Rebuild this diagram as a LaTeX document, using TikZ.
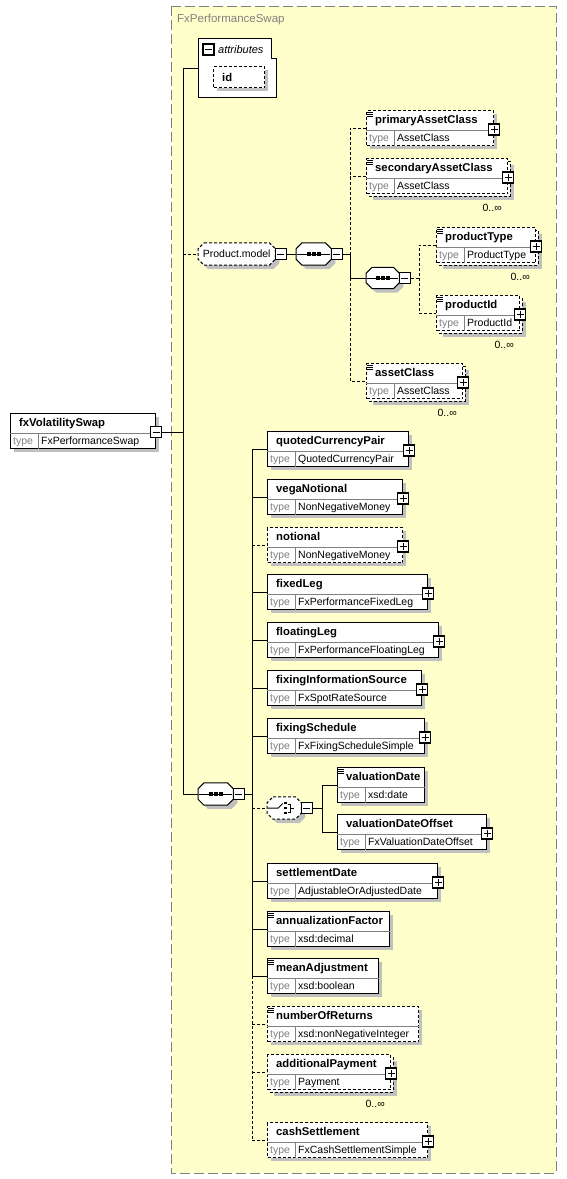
\documentclass[tikz,border=0pt]{standalone}
\usepackage{fontspec}
\setmainfont{Liberation Sans}

\definecolor{bgyellow}{RGB}{255,255,204}
\definecolor{shgray}{RGB}{192,192,192}
\definecolor{txgray}{RGB}{128,128,128}

\tikzset{
  conn/.style={line width=1pt},
  reqline/.style={},
  optline/.style={dash pattern=on 3pt off 2pt},
  elbox/.style={draw, fill=white, line width=1pt, rectangle, anchor=north west, minimum height=35pt, inner sep=0pt},
  elback/.style={draw, fill=white, line width=1pt},
  rowline/.style={draw=txgray, line width=1pt, shorten <=0.5pt, shorten >=0.5pt},
  eltitle/.style={font=\bfseries\fontsize{11.3}{13}\selectfont, anchor=base west, inner sep=0pt},
  typelab/.style={font=\fontsize{10.5}{12}\selectfont, text=txgray, anchor=base west, inner sep=0pt},
  typetxt/.style={font=\fontsize{10.5}{12}\selectfont, anchor=base west, inner sep=0pt},
  card/.style={font=\fontsize{10.5}{12}\selectfont, anchor=base east, inner sep=0pt},
  togbox/.style={draw, fill=white, line width=1.3pt, minimum size=11pt, inner sep=0pt},
  compbox/.style={rectangle, minimum height=22pt, inner sep=0pt, anchor=west},
}

\newif\ifmulti
% element box: [border style]{name}{x}{y}{width}{title}{type}
\newcommand\xsdelem[7][reqline]{%
  \ifmulti
    \fill [shgray] (#3+7, #4+7) rectangle ++(#5, 35);
    \draw [elback, #1] (#3+3, #4+3) rectangle ++(#5, 35);
  \else
    \fill [shgray] (#3+4, #4+4) rectangle ++(#5, 35);
  \fi
  \node (#2) [elbox, #1, minimum width=#5] at (#3, #4) {};
  \draw [rowline] ([yshift=-20pt]#2.north west) -- ([yshift=-20pt]#2.north east)
        ([xshift=28pt, yshift=-20pt]#2.north west) -- ([xshift=28pt]#2.south west);
  \node (#2-name) [eltitle] at ([xshift=9pt, yshift=-13pt]#2.north west) {#6};
  \node (#2-lab) [typelab] at ([xshift=3pt, yshift=-31pt]#2.north west) {type};
  \node (#2-type) [typetxt] at ([xshift=31pt, yshift=-31pt]#2.north west) {#7};
  \ifmulti
    \node (#2-card) [card] at ([xshift=-6pt, yshift=-17.5pt]#2.south east) {0..∞};
  \fi
}
% octagon round a compositor node, shifted by (#2,#3)
\newcommand\octpts[3]{([xshift=#2pt+6pt, yshift=#3pt]#1.north west) -- ([xshift=#2pt-6pt, yshift=#3pt]#1.north east)
  -- ([xshift=#2pt, yshift=#3pt-6pt]#1.north east) -- ([xshift=#2pt, yshift=#3pt+6pt]#1.south east)
  -- ([xshift=#2pt-6pt, yshift=#3pt]#1.south east) -- ([xshift=#2pt+6pt, yshift=#3pt]#1.south west)
  -- ([xshift=#2pt, yshift=#3pt+6pt]#1.south west) -- ([xshift=#2pt, yshift=#3pt-6pt]#1.north west) -- cycle}
\newcommand\octo[2][]{%
  \fill [shgray] \octpts{#2}{4}{-4};
  \draw [conn, fill=white, #1] \octpts{#2}{0}{0};
}
\newcommand\togplus[2]{%
  \node (#1) [togbox] at (#2) {};
  \draw [line width=1pt] ([xshift=-3.5pt]#1.center) -- ([xshift=3.5pt]#1.center)
        ([yshift=-3.5pt]#1.center) -- ([yshift=3.5pt]#1.center);
}
\newcommand\togminus[2]{%
  \node (#1) [togbox] at (#2) {};
  \draw [line width=1pt] ([xshift=-3.5pt]#1.center) -- ([xshift=3.5pt]#1.center);
}
\newcommand\docmark[1]{%
  \draw [line width=0.8pt] ([xshift=1pt, yshift=-2.5pt]#1.north west) -- ++(6,0)
        ([xshift=1pt, yshift=-4.5pt]#1.north west) -- ++(6,0)
        ([xshift=1pt, yshift=-6.5pt]#1.north west) -- ++(6,0);
}
\newcommand\seqicon[1]{%
  \draw [conn] ([xshift=1pt]#1.west) -- ([xshift=-1pt]#1.east);
  \foreach \dx in {-5,0,5}
    \fill ([xshift=\dx pt]#1.center) +(-2,-2) rectangle +(2,2);
}
\newcommand\choiceicon[1]{%
  \draw [conn] ([xshift=-16pt]#1.center) -- ([xshift=-6pt]#1.center) -- ([xshift=-1.5pt, yshift=4.5pt]#1.center);
  \foreach \dy in {-5,0,5}
    \fill ([xshift=1pt, yshift=\dy pt]#1.center) +(-1.3,-1.3) rectangle +(1.3,1.3);
  \draw [line width=0.8pt] ([xshift=3.5pt, yshift=4pt]#1.center) -- ([xshift=6.5pt, yshift=4pt]#1.center)
        -- ([xshift=6.5pt, yshift=-4pt]#1.center) -- ([xshift=3.5pt, yshift=-4pt]#1.center)
        ([xshift=6.5pt]#1.center) -- ([xshift=10pt]#1.center);
}

\begin{document}
\begin{tikzpicture}[x=1pt, y=-1pt]
  \useasboundingbox (0,0) rectangle (567,1179);

  % Type frame
  \draw [draw=txgray, fill=bgyellow, line width=1pt, dash pattern=on 10pt off 4pt] (171,6) rectangle (556,1173);
  \node (frame-title) [typetxt, font=\fontsize{11.5}{13}\selectfont, text=txgray] at (177,22) {FxPerformanceSwap};

  % Root element
  \xsdelem{root}{10}{413}{145}{fxVolatilitySwap}{FxPerformanceSwap}
  \togminus{root-x}{[yshift=-1pt]root.east}
  \coordinate (trunka) at (183,431);

  % Attributes
  \coordinate (attr) at (198,68);
  \draw [conn, fill=white] (198,38) -- (271,38) -- (271,58) -- (276,58) -- (276,97) -- (198,97) -- cycle;
  \togminus{attr-x}{208.5,49.5}
  \node (attr-lab) [typetxt, font=\itshape\fontsize{11}{13}\selectfont] at (218,53) {attributes};
  \fill [shgray] (217,70) rectangle ++(51,21);
  \node (id) [draw, fill=white, optline, line width=1pt, anchor=north west, minimum width=51pt, minimum height=21pt, inner sep=0pt] at (213,66) {};
  \node (id-name) [eltitle] at (222,81) {id};

  % Product.model group
  \node (pmodel) [compbox, minimum width=77pt] at (198,254) {};
  \octo[optline]{pmodel}
  \node (pmodel-lab) [font=\fontsize{10.5}{12}\selectfont, inner sep=0pt] at (pmodel) {Product.model};
  \togminus{pmodel-x}{[xshift=5.5pt]pmodel.east}
  \node (pseq) [compbox, minimum width=35pt] at (296,254) {};
  \octo{pseq}
  \seqicon{pseq}
  \togminus{pseq-x}{[xshift=5.5pt]pseq.east}
  \coordinate (psplit) at (350,254);

  \xsdelem[optline]{primary}{366}{110}{127}{primaryAssetClass}{AssetClass}
  \node (iseq) [compbox, minimum width=33pt, minimum height=21pt] at (366,278) {};
  \octo{iseq}
  \seqicon{iseq}
  \togminus{iseq-x}{[xshift=5.5pt]iseq.east}
  \coordinate (isplit) at (419,278);
  \multitrue
  \xsdelem[optline]{secondary}{366}{158}{141}{secondaryAssetClass}{AssetClass}
  \xsdelem[optline]{ptype}{436}{227}{99}{productType}{ProductType}
  \xsdelem[optline]{pid}{436}{295}{83}{productId}{ProductId}
  \xsdelem[optline]{aclass}{366}{363}{96}{assetClass}{AssetClass}
  \multifalse

  % Main sequence
  \node (mseq) [compbox, minimum width=35pt] at (198,794) {};
  \octo{mseq}
  \seqicon{mseq}
  \togminus{mseq-x}{[xshift=5.5pt]mseq.east}
  \coordinate (trunkb) at (252,794);

  \foreach \nm/\yy/\ww/\ttl/\typ/\sty in {
      qcp/431/141/quotedCurrencyPair/QuotedCurrencyPair/reqline,
      vega/479/135/vegaNotional/NonNegativeMoney/reqline,
      notional/527/135/notional/NonNegativeMoney/optline,
      fixed/574/160/fixedLeg/FxPerformanceFixedLeg/reqline,
      floating/622/171/floatingLeg/FxPerformanceFloatingLeg/reqline,
      fixsrc/670/154/fixingInformationSource/FxSpotRateSource/reqline,
      fixsch/718/157/fixingSchedule/FxFixingScheduleSimple/reqline,
      settle/863/170/settlementDate/AdjustableOrAdjustedDate/reqline,
      annual/911/122/annualizationFactor/xsd:decimal/reqline,
      mean/958/111/meanAdjustment/xsd:boolean/reqline,
      nreturns/1006/151/numberOfReturns/xsd:nonNegativeInteger/optline,
      cashset/1122/160/cashSettlement/FxCashSettlementSimple/optline}
    {\xsdelem[\sty]{\nm}{267}{\yy}{\ww}{\ttl}{\typ}}
  \multitrue
  \xsdelem[optline]{addpay}{267}{1054}{123}{additionalPayment}{Payment}
  \multifalse

  % Choice
  \node (choice) [compbox, minimum width=34pt] at (267,808) {};
  \octo[optline]{choice}
  \choiceicon{choice}
  \togminus{choice-x}{[xshift=5.5pt]choice.east}
  \coordinate (csplit) at (322,808);
  \xsdelem{valdate}{337}{767}{87}{valuationDate}{xsd:date}
  \xsdelem{valoff}{337}{814}{149}{valuationDateOffset}{FxValuationDateOffset}

  % Toggles and doc marks
  \foreach \nm in {primary, secondary, ptype, pid, aclass, qcp, vega, notional, fixed, floating, fixsrc, fixsch, valoff, settle, addpay, cashset}
    {\togplus{\nm-x}{[yshift=-1.5pt]\nm.east}}
  \foreach \nm in {primary, secondary, ptype, pid, aclass, valdate, annual, mean, nreturns}
    {\docmark{\nm}}

  % Links
  \draw [conn] (root-x.east) -- (trunka |- root-x.east);
  \draw [conn] (attr) -- (trunka |- attr) -- (trunka |- mseq.west) -- (mseq.west);
  \draw [conn, optline] (trunka |- pmodel.west) -- (pmodel.west);
  \draw [conn] (pmodel-x.east) -- (pseq.west);
  \draw [conn] (pseq-x.east) -- (psplit);
  \draw [conn, optline] (primary.west) -- (psplit |- primary.west) -- (psplit);
  \draw [conn, optline] (secondary.west) -- (psplit |- secondary.west);
  \draw [conn] (psplit) -- (psplit |- iseq.west) -- (iseq.west);
  \draw [conn, optline] (psplit |- iseq.west) -- (psplit |- aclass.west) -- (aclass.west);
  \draw [conn, optline] (iseq-x.east) -- (isplit);
  \draw [conn, optline] (ptype.west) -- (isplit |- ptype.west) -- (isplit |- pid.west) -- (pid.west);

  \draw [conn] (mseq-x.east) -- (trunkb);
  \draw [conn] (trunkb |- qcp.west) -- (trunkb |- mean.west);
  \draw [conn, optline] (trunkb |- mean.west) -- (trunkb |- cashset.west);
  \foreach \nm in {qcp, vega, fixed, floating, fixsrc, fixsch, settle, annual, mean}
    {\draw [conn] (trunkb |- \nm.west) -- (\nm.west);}
  \foreach \nm in {notional, nreturns, addpay, cashset}
    {\draw [conn, optline] (trunkb |- \nm.west) -- (\nm.west);}
  \draw [conn, optline] (trunkb |- choice.west) -- (choice.west);
  \draw [conn] (choice-x.east) -- (csplit);
  \draw [conn] (valdate.west) -- (csplit |- valdate.west) -- (csplit |- valoff.west) -- (valoff.west);
\end{tikzpicture}
\end{document}
